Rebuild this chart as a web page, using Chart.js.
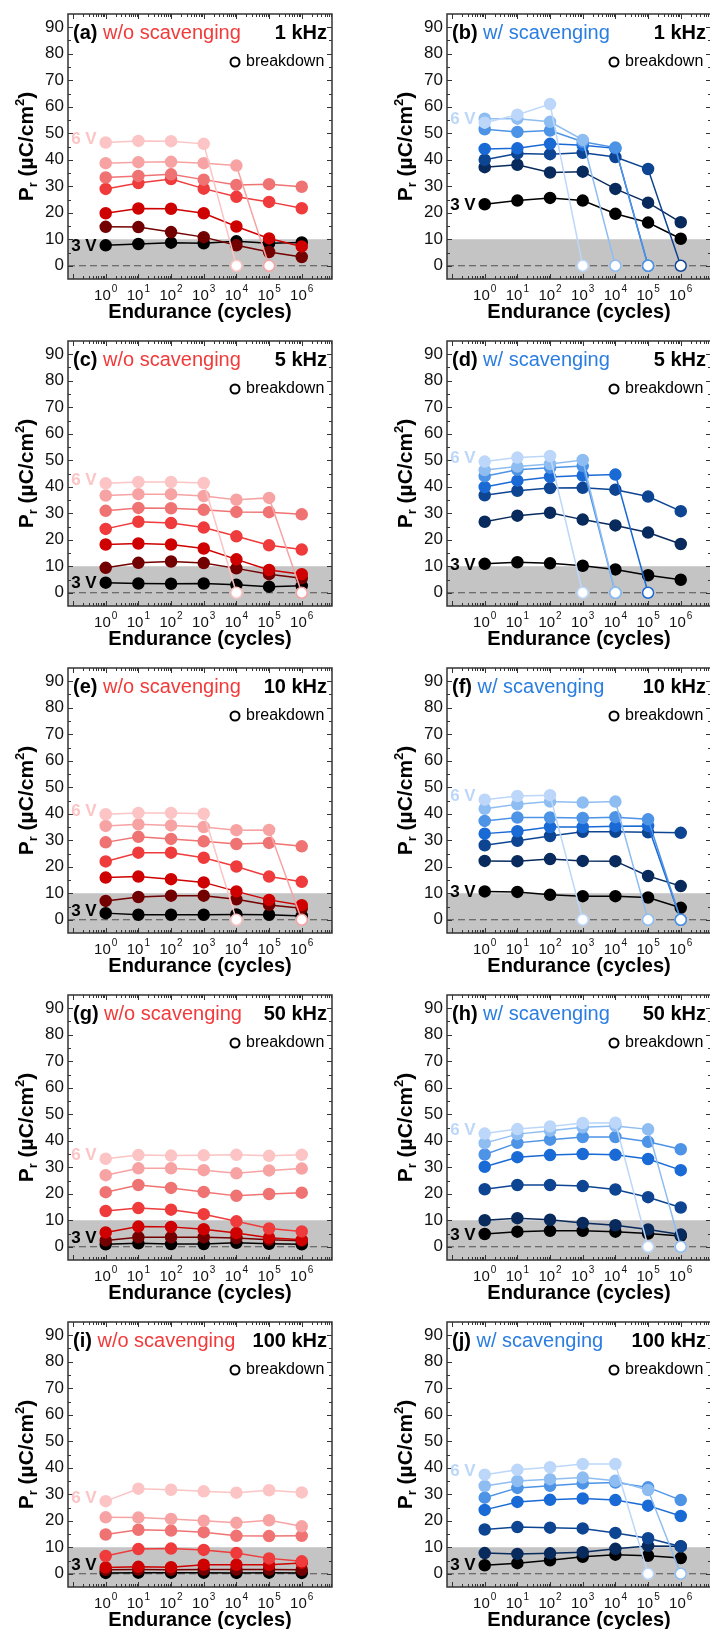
<!DOCTYPE html>
<html>
<head>
<meta charset="utf-8">
<script src="https://cdn.jsdelivr.net/npm/chart.js@4.4.1/dist/chart.umd.min.js"></script>
<style>
  html, body { margin: 0; padding: 0; background: #fff; }
  #fig { position: relative; width: 710px; height: 1629px; overflow: hidden; }
  #fig canvas { position: absolute; }
</style>
</head>
<body>
<div id="fig"></div>
<script>
// endurance cycles (x) and the stress voltages of the seven series
const cycles = [1, 10, 100, 1e3, 1e4, 1e5, 1e6];
const voltages = ['3 V', '3.5 V', '4 V', '4.5 V', '5 V', '5.5 V', '6 V'];
const freqs = ['1 kHz', '5 kHz', '10 kHz', '50 kHz', '100 kHz'];
const yTicks = [0, 10, 20, 30, 40, 50, 60, 70, 80, 90];

// BD marks the breakdown point (drawn as an open circle on the 0 line)
const BD = 0;

// Pr values in uC/cm2, one row per voltage (3 V ... 6 V)
const woScav1k = [
  [7.7, 8.2, 8.7, 8.5, 9.2, 8.5, 8.8],
  [14.7, 14.6, 12.7, 10.8, 7.7, 5.2, 3.3],
  [19.8, 21.6, 21.5, 19.8, 14.8, 10.3, 7.3],
  [29.0, 31.2, 32.7, 29.1, 26.0, 24.1, 21.7],
  [33.3, 33.9, 34.5, 32.5, 30.5, 30.8, 29.8],
  [38.7, 39.1, 39.2, 38.7, 37.8, BD, null],
  [46.5, 47.1, 47.0, 46.0, BD, null, null]
];
const wScav1k = [
  [23.2, 24.6, 25.6, 24.6, 19.6, 16.3, 10.2],
  [37.2, 38.1, 35.2, 35.5, 29.0, 23.8, 16.4],
  [40.0, 42.4, 42.1, 42.6, 41.0, 36.5, BD],
  [44.1, 44.3, 46.0, 45.5, 44.3, BD, null],
  [51.5, 50.5, 51.0, 46.8, 44.6, BD, null],
  [55.5, 55.5, 54.3, 47.5, BD, null, null],
  [54.0, 57.0, 61.0, BD, null, null, null]
];
const woScav5k = [
  [3.8, 3.5, 3.4, 3.5, 3.0, 2.3, 2.6],
  [9.4, 11.3, 11.8, 11.2, 9.2, 7.0, 5.5],
  [18.2, 18.6, 18.2, 16.7, 12.6, 8.6, 7.0],
  [24.1, 26.8, 26.3, 24.6, 21.3, 17.9, 16.3],
  [30.9, 32.0, 31.9, 31.3, 30.5, 30.4, 29.6],
  [36.7, 37.2, 37.2, 36.5, 35.1, 35.8, BD],
  [41.3, 41.8, 41.8, 41.4, BD, null, null]
];
const wScav5k = [
  [10.9, 11.5, 11.1, 10.2, 8.8, 6.6, 4.9],
  [26.8, 29.1, 30.2, 27.6, 25.4, 22.7, 18.4],
  [36.8, 38.5, 39.5, 39.6, 38.9, 36.3, 30.8],
  [39.9, 42.3, 43.7, 44.2, 44.6, BD, null],
  [44.0, 46.4, 47.2, 47.8, BD, null, null],
  [46.3, 47.6, 48.6, 50.1, BD, null, null],
  [49.5, 51.0, 51.6, BD, null, null, null]
];
const woScav10k = [
  [2.5, 1.9, 1.9, 1.9, 2.0, 1.9, 1.4],
  [7.1, 8.6, 9.1, 9.1, 7.7, 5.6, 4.3],
  [15.9, 16.3, 15.3, 14.1, 10.7, 7.5, 5.5],
  [22.0, 25.3, 25.3, 23.4, 20.1, 16.3, 14.3],
  [29.2, 31.3, 30.5, 29.6, 28.6, 29.0, 27.7],
  [35.4, 36.0, 35.6, 35.0, 33.8, 33.9, BD],
  [39.8, 40.3, 40.3, 40.0, BD, null, null]
];
const wScav10k = [
  [10.7, 10.5, 9.4, 8.9, 8.9, 8.4, 4.5],
  [22.2, 22.1, 22.9, 22.2, 22.1, 16.5, 12.7],
  [28.1, 29.8, 31.6, 33.2, 33.2, 33.0, 32.8],
  [32.5, 33.4, 35.0, 35.0, 35.3, 35.4, BD],
  [37.3, 38.6, 38.6, 38.4, 38.7, 37.9, BD],
  [41.9, 43.6, 44.6, 44.2, 44.6, BD, null],
  [45.3, 46.7, 47.0, BD, null, null, null]
];
const woScav50k = [
  [0.9, 1.3, 1.0, 1.0, 1.5, 1.1, 0.9],
  [2.4, 3.6, 3.6, 3.6, 3.3, 2.6, 2.3],
  [5.4, 7.6, 7.5, 6.6, 5.2, 3.4, 2.6],
  [13.5, 14.6, 14.0, 12.3, 9.6, 6.9, 5.8],
  [20.6, 23.3, 22.2, 20.7, 19.2, 19.9, 20.4],
  [27.0, 29.6, 29.6, 28.9, 27.7, 28.8, 29.5],
  [33.2, 34.6, 34.4, 34.5, 34.7, 34.3, 34.7]
];
const wScav50k = [
  [4.8, 5.7, 6.0, 6.0, 5.7, 5.0, 4.1],
  [10.0, 10.8, 10.2, 9.0, 8.1, 6.5, 4.6],
  [21.7, 23.3, 23.3, 22.9, 21.6, 18.7, 14.8],
  [30.2, 33.8, 34.6, 35.0, 34.7, 33.1, 28.9],
  [34.8, 39.2, 40.4, 41.4, 41.4, 39.6, 36.8],
  [39.1, 42.5, 43.8, 45.1, 45.6, 44.3, BD],
  [42.7, 44.4, 45.4, 46.7, 46.8, BD, null]
];
const woScav100k = [
  [0.3, 0.4, 0.4, 0.4, 0.3, 0.4, 0.3],
  [1.5, 1.6, 1.5, 1.6, 1.6, 1.6, 1.5],
  [2.4, 2.6, 2.5, 3.4, 3.4, 3.4, 4.1],
  [6.7, 9.3, 9.5, 9.0, 7.8, 5.8, 4.7],
  [14.8, 16.6, 16.3, 15.7, 14.3, 14.2, 14.3],
  [21.3, 21.2, 20.7, 20.0, 19.2, 20.2, 17.9],
  [27.4, 32.1, 31.7, 31.1, 30.6, 31.5, 30.7]
];
const wScav100k = [
  [3.2, 4.0, 5.1, 6.4, 7.2, 6.8, 5.9],
  [7.8, 7.5, 7.7, 8.1, 9.4, 10.5, 10.4],
  [16.7, 17.6, 17.4, 17.1, 15.4, 13.4, 10.3],
  [24.1, 27.1, 27.9, 28.4, 27.8, 25.7, 21.8],
  [28.7, 32.4, 33.2, 34.1, 34.4, 32.6, 27.8],
  [33.1, 35.0, 35.7, 36.3, 35.1, 31.6, BD],
  [37.4, 39.2, 40.2, 41.4, 41.4, BD, null]
];

const redShades = ['#000000', '#730000', '#cf0000', '#ef3b3b', '#f07373', '#f7a3a3', '#fcc4c4'];
const blueShades = ['#000000', '#082a5c', '#0e4592', '#1a6ad6', '#4d93e6', '#8ebdf2', '#bcd7fa'];

const panels = [
  { tag: '(a)', scav: false, freq: freqs[0], series: woScav1k },
  { tag: '(b)', scav: true, freq: freqs[0], series: wScav1k },
  { tag: '(c)', scav: false, freq: freqs[1], series: woScav5k },
  { tag: '(d)', scav: true, freq: freqs[1], series: wScav5k },
  { tag: '(e)', scav: false, freq: freqs[2], series: woScav10k },
  { tag: '(f)', scav: true, freq: freqs[2], series: wScav10k },
  { tag: '(g)', scav: false, freq: freqs[3], series: woScav50k },
  { tag: '(h)', scav: true, freq: freqs[3], series: wScav50k },
  { tag: '(i)', scav: false, freq: freqs[4], series: woScav100k },
  { tag: '(j)', scav: true, freq: freqs[4], series: wScav100k }
];

const FONT = '"Liberation Sans", Arial, sans-serif';
const CW = 380, CH = 327;
const PAD = { left: 68, top: 14, right: 48, bottom: 48 };

function decoPlugin(p) {
  const pal = p.scav ? blueShades : redShades;
  return {
    id: 'deco',
    beforeDatasetsDraw(chart) {
      const { ctx, chartArea: a, scales: { y } } = chart;
      ctx.save();
      ctx.fillStyle = '#c4c4c4';
      ctx.fillRect(a.left, y.getPixelForValue(10), a.right - a.left, a.bottom - y.getPixelForValue(10));
      ctx.strokeStyle = '#505050';
      ctx.lineWidth = 1.2;
      ctx.setLineDash([7, 4]);
      ctx.beginPath();
      ctx.moveTo(a.left, y.getPixelForValue(0));
      ctx.lineTo(a.right, y.getPixelForValue(0));
      ctx.stroke();
      ctx.restore();
    },
    afterDatasetsDraw(chart) {
      const { ctx, chartArea: a, scales: { x, y } } = chart;
      ctx.save();
      // frame
      ctx.strokeStyle = '#333';
      ctx.lineWidth = 1.5;
      ctx.strokeRect(a.left, a.top, a.right - a.left, a.bottom - a.top);
      // y ticks, inward on both sides
      ctx.lineWidth = 1;
      ctx.beginPath();
      for (let v = 0; v <= 90; v += 5) {
        const py = Math.round(y.getPixelForValue(v)) + 0.5;
        const len = v % 10 === 0 ? 5 : 3;
        ctx.moveTo(a.left, py); ctx.lineTo(a.left + len, py);
        ctx.moveTo(a.right, py); ctx.lineTo(a.right - len, py);
      }
      // x ticks (log, with minor), inward top and bottom
      for (let e = -1; e <= 6; e++) {
        for (let m = 1; m <= 9; m++) {
          const val = m * Math.pow(10, e);
          if (val < x.min || val > x.max) continue;
          const px = Math.round(x.getPixelForValue(val)) + 0.5;
          const len = m === 1 ? 5 : 3;
          ctx.moveTo(px, a.bottom); ctx.lineTo(px, a.bottom - len);
          ctx.moveTo(px, a.top); ctx.lineTo(px, a.top + len);
        }
      }
      ctx.stroke();

      // y tick labels
      ctx.fillStyle = '#111';
      ctx.font = '17px ' + FONT;
      ctx.textAlign = 'right';
      ctx.textBaseline = 'middle';
      yTicks.forEach(v => ctx.fillText(String(v), a.left - 4, y.getPixelForValue(v)));

      // x tick labels 10^n
      ctx.textAlign = 'left';
      ctx.textBaseline = 'alphabetic';
      cycles.forEach(c => {
        const ex = String(Math.round(Math.log10(c)));
        ctx.font = '15px ' + FONT;
        const w1 = ctx.measureText('10').width;
        ctx.font = '10px ' + FONT;
        const w2 = ctx.measureText(ex).width;
        const x0 = x.getPixelForValue(c) - (w1 + w2 + 1) / 2;
        ctx.font = '15px ' + FONT;
        ctx.fillText('10', x0, a.bottom + 21);
        ctx.font = '10px ' + FONT;
        ctx.fillText(ex, x0 + w1 + 1, a.bottom + 13);
      });

      // x title
      ctx.font = 'bold 20px ' + FONT;
      ctx.textAlign = 'center';
      ctx.fillStyle = '#000';
      ctx.fillText('Endurance (cycles)', (a.left + a.right) / 2, a.bottom + 39);

      // y title: P_r (uC/cm^2)
      ctx.save();
      ctx.translate(a.left - 41, (a.top + a.bottom) / 2);
      ctx.rotate(-Math.PI / 2);
      ctx.textAlign = 'left';
      ctx.textBaseline = 'middle';
      const parts = [
        { t: 'P', f: 'bold 21px ', dy: 0 },
        { t: 'r', f: 'bold 13px ', dy: 6 },
        { t: ' (\u00b5C/cm', f: 'bold 21px ', dy: 0 },
        { t: '2', f: 'bold 13px ', dy: -7 },
        { t: ')', f: 'bold 21px ', dy: 0 }
      ];
      let tot = 0;
      parts.forEach(q => { ctx.font = q.f + FONT; q.w = ctx.measureText(q.t).width; tot += q.w; });
      let cx = -tot / 2;
      parts.forEach(q => { ctx.font = q.f + FONT; ctx.fillText(q.t, cx, q.dy); cx += q.w; });
      ctx.restore();

      // panel heading
      ctx.textAlign = 'left';
      ctx.textBaseline = 'alphabetic';
      ctx.font = 'bold 20px ' + FONT;
      ctx.fillStyle = '#000';
      ctx.fillText(p.tag, a.left + 5, a.top + 25);
      const wt = ctx.measureText(p.tag + ' ').width;
      ctx.font = '20px ' + FONT;
      ctx.fillStyle = p.scav ? '#2a7de1' : '#f23a3a';
      ctx.fillText(p.scav ? 'w/ scavenging' : 'w/o scavenging', a.left + 5 + wt, a.top + 25);
      ctx.font = 'bold 20px ' + FONT;
      ctx.fillStyle = '#000';
      ctx.textAlign = 'right';
      ctx.fillText(p.freq, a.right - 5, a.top + 25);

      // breakdown key
      ctx.beginPath();
      ctx.arc(a.right - 97, a.top + 48, 4.5, 0, Math.PI * 2);
      ctx.fillStyle = '#fff';
      ctx.fill();
      ctx.lineWidth = 2;
      ctx.strokeStyle = '#000';
      ctx.stroke();
      ctx.fillStyle = '#000';
      ctx.font = '16px ' + FONT;
      ctx.textAlign = 'left';
      ctx.textBaseline = 'middle';
      ctx.fillText('breakdown', a.right - 86, a.top + 48);

      // voltage labels beside the first points
      const x0 = x.getPixelForValue(cycles[0]) - 9;
      ctx.textAlign = 'right';
      ctx.font = 'bold 17px ' + FONT;
      ctx.fillStyle = pal[6];
      ctx.fillText(voltages[6], x0, y.getPixelForValue(p.series[6][0]) - 3);
      ctx.fillStyle = '#000';
      ctx.fillText(voltages[0], x0, y.getPixelForValue(Math.max(p.series[0][0], 3.5)) + 1);
      ctx.restore();
    }
  };
}

const fig = document.getElementById('fig');
panels.forEach((p, i) => {
  const row = Math.floor(i / 2), col = i % 2;
  const cv = document.createElement('canvas');
  cv.width = CW; cv.height = CH;
  cv.style.width = CW + 'px'; cv.style.height = CH + 'px';
  cv.style.left = (col ? 379 : 0) + 'px';
  cv.style.top = Math.round(row * 326.9) + 'px';
  fig.appendChild(cv);
  const pal = p.scav ? blueShades : redShades;

  new Chart(cv, {
    type: 'line',
    data: {
      datasets: p.series.map((vals, k) => ({
        label: voltages[k],
        data: vals.map((v, j) => ({ x: cycles[j], y: v })).filter(pt => pt.y !== null),
        borderColor: pal[k],
        backgroundColor: pal[k],
        borderWidth: 1.5,
        pointRadius: 5.5,
        pointBorderWidth: 1.5,
        pointBorderColor: pal[k],
        pointBackgroundColor: c => (c.raw && c.raw.y === BD ? '#ffffff' : pal[k]),
        order: 6 - k,
        tension: 0
      }))
    },
    options: {
      responsive: false,
      animation: false,
      events: [],
      layout: { padding: PAD },
      plugins: { legend: { display: false }, tooltip: { enabled: false } },
      scales: {
        x: { type: 'logarithmic', display: false, bounds: 'data', min: Math.pow(10, -1.154), max: Math.pow(10, 6.926) },
        y: { type: 'linear', display: false, min: -5, max: 95 }
      }
    },
    plugins: [decoPlugin(p)]
  });
});
</script>
</body>
</html>
